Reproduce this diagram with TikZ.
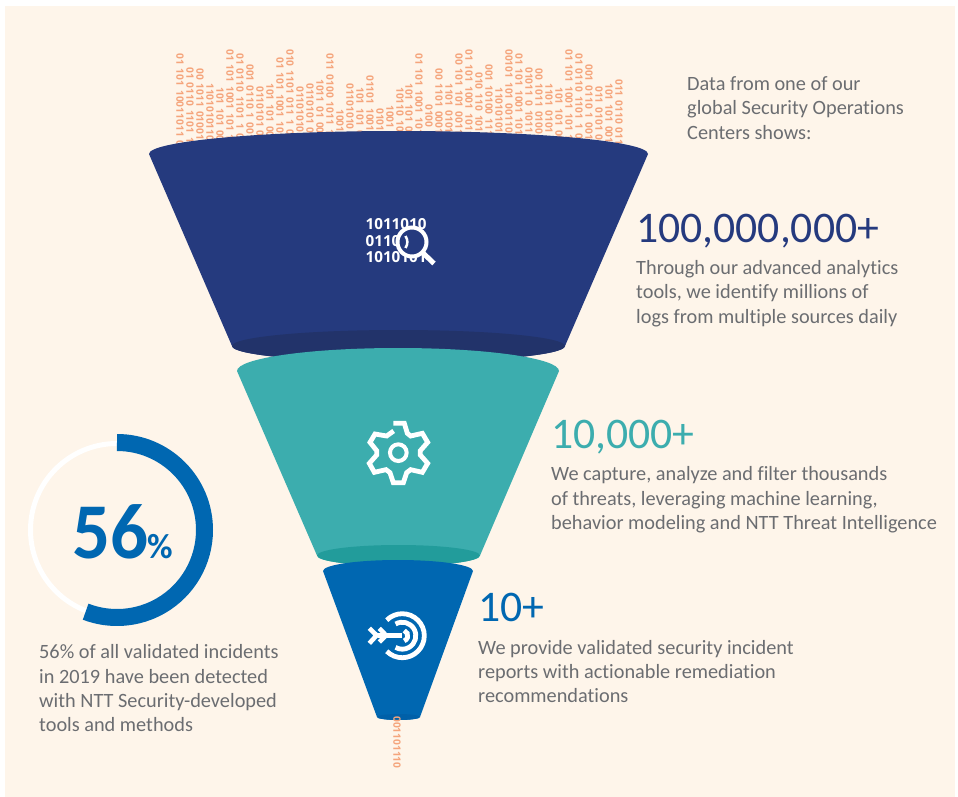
\documentclass[tikz,border=0pt]{standalone}
\usepackage{fontspec}
\usepackage{graphicx}
\setmainfont[Ligatures=NoCommon]{Carlito}
\newfontfamily\bitfont[WordSpace=1.5]{Open Sans}
\definecolor{cream}{HTML}{FEF5EA}
\definecolor{navyF}{HTML}{253A7E}
\definecolor{navyD}{HTML}{22336A}
\definecolor{tealF}{HTML}{3CADAE}
\definecolor{tealD}{HTML}{229C9B}
\definecolor{blueF}{HTML}{0067B1}
\definecolor{blueD}{HTML}{0060A8}
\definecolor{greyT}{HTML}{6B6D71}
\definecolor{binC}{HTML}{F5A57C}
\tikzset{
  bits/.style={rotate=-90,anchor=west,inner sep=0pt,text=binC,font=\bitfont\fontsize{10.2}{12}\selectfont\bfseries},
  para/.style={anchor=north west,inner sep=0pt,align=left,text=greyT,font=\fontsize{20.3}{24.2}\selectfont},
  big/.style={anchor=base west,inner sep=0pt,font=\fontsize{43.7}{46}\selectfont},
  iconbits/.style={anchor=west,inner sep=0pt,text=white,font=\bitfont\fontsize{15.2}{18}\selectfont\bfseries},
  icon/.style={draw=white,line width=4.8pt,fill=none}
}
\begin{document}
\begin{tikzpicture}[x=1pt,y=-1pt]
\useasboundingbox (0,0) rectangle (958,797);
\fill[white] (0,0) rectangle (958,797);
\fill[cream] (5,6) rectangle (955,797);

% binary columns
\foreach \xx/\yy/\tt in {
180/53/01 101 10011011 00 0110,190/67/01 0110 1101 1 0 1011,200/68/00 1011 01001 11 0101,210/83/1101010110 0101,220/87/101 101  00 1011,
230/49/01 101 1001 101 100 1011,240/53/01 0110 1101 1 01 1011,250/64/001 0110 1 001 1 1011,260/86/0110101 0 1011,270/83/101 101 00 1011,
280/57/01 101 1001 101 1 1011,290/49/010 1101 011 1 01 1011,300/86/01101010 1011,310/83/0110101 01 1011,320/79/1011 01 0011 1011,
330/53/011 0100 1011 1011 10,340/109/1001 1011,350/83/01101010 1011,360/87/101 101 0 1011,370/75/01101 1001 1011,380/108/0101 1011,390/105/1001 1 1011,400/87/10110 10110,
409/83/101 101 00 1011,419/53/01 101 1001 1011 1011,429/104/0100 1011,439/68/00 1101 0001 11 1011,449/83/1101 0101 1011,
459/53/00 101 101 00111 1011,469/49/01 101 1001 10110 1011,479/72/010 110 101 1011,489/64/001 10100 111 1011,499/87/11010101 1011,
509/49/00101 101 00110 1011,519/53/01 101 1001 1011 1011,529/67/01011 0 1011 1011,539/68/00 1011 0100 1 1011,549/83/1101 0101 1 1011,
559/87/101 101 00 1011,569/49/01 101 1001 101 100 1011,579/53/01 0110 1101 1 01 1011,589/64/001 0110 1 001 1 1011,599/86/011 0101 0 1 1011,
609/83/101 101 001 1011,619/79/011 0110 0110 1011}
  \node[bits] at (\xx,\yy) {\tt};

% top funnel
\fill[navyF] (149,154) arc[start angle=180,end angle=0,x radius=249.5pt,y radius=23pt]
  -- (565,346) arc[start angle=0,end angle=-180,x radius=166.5pt,y radius=16pt] -- cycle;
\fill[navyD] (398.5,346) ellipse[x radius=166.5pt,y radius=16pt];
% middle funnel
\fill[tealF] (237,371) arc[start angle=180,end angle=0,x radius=161pt,y radius=23pt]
  -- (480,555.5) arc[start angle=0,end angle=-180,x radius=81.5pt,y radius=10.5pt] -- cycle;
\fill[tealD] (398.5,555.5) ellipse[x radius=81.5pt,y radius=10.5pt];
% bottom funnel
\fill[blueF] (323,571) arc[start angle=180,end angle=0,x radius=75pt,y radius=11pt]
  -- (420,717) arc[start angle=0,end angle=-180,x radius=21.5pt,y radius=3pt] -- cycle;
\fill[blueD] (398.5,717) ellipse[x radius=21.5pt,y radius=3pt];

\node[bits] (tail) at (397,716) {001101110};

% magnifier icon
\node[iconbits] (row1) at (365.5,224) {1011010};
\node[iconbits] (row2) at (365.5,241) {01101};
\node[iconbits] (row3) at (365.5,257.5) {1010101};
\fill[navyF] (412,242) circle[radius=16pt];
\draw[white,line width=2.5pt] (405.5,236) .. controls (408,240) and (408,244) .. (405.5,248);
\draw[white,line width=4pt] (412,242) circle[radius=14.5pt];
\draw[white,line width=5pt] (422.5,252.5) -- (434,263.5);

% gear icon
\begin{scope}[shift={(350,410)},x=0.3333pt,y=-0.3333pt]
\draw[icon,line join=miter] (130,40) -- (163,40) -- (172,70) -- (182,78) -- (217,70) -- (233,97)
  -- (211,122) -- (211,135) -- (233,160) -- (217,187) -- (182,179) -- (170,188) -- (160,218) -- (130,218)
  -- (120,188) -- (108,179) -- (73,187) -- (58,160) -- (80,135) -- (80,122) -- (60,97) -- (75,72)
  -- (110,78) -- (131,63);
\draw[white,line width=4pt] (145,128) circle[radius=25];
\end{scope}

% target icon
\coordinate (tc) at (402.3,635.7);
\draw[white,line width=4.8pt] (tc) ++(135:22pt) arc[start angle=135,end angle=-135,radius=22pt];
\draw[white,line width=4.8pt] (tc) ++(120:13.5pt) arc[start angle=120,end angle=-120,radius=13.5pt];
\draw[white,line width=4.8pt] (tc) ++(70:5.5pt) arc[start angle=70,end angle=-70,radius=5.5pt];
\begin{scope}[shift={(350,600)},x=0.3333pt,y=-0.3333pt]
\draw[white,line width=4.8pt] (85,106) -- (155,106);
\draw[white,line width=4.6pt] (58,85) -- (80,106) -- (58,130);
\draw[white,line width=4.6pt] (88,85) -- (108,106) -- (88,126);
\end{scope}

% donut
\draw[white,line width=5pt] (117,530) circle[radius=86.5pt];
\draw[blueF,line width=17pt] (117,530) ++(90:87.5pt) arc[start angle=90,end angle=-111,radius=87.5pt];
\node[anchor=base west,inner sep=0pt,text=blueF,font=\fontsize{79}{82}\selectfont\bfseries] (pct) at (72,558) {\scalebox{0.95}[1]{56}};
\node[anchor=base west,inner sep=0pt,text=blueF,font=\fontsize{35}{38}\selectfont\bfseries] (pctsign) at (147,558) {\%};

% text
\node[para] (t0) at (687,76.5) {Data from one of our\\global Security Operations\\Centers shows:};
\node[big,text=navyF] (n1) at (636,242.5) {100,000,000+};
\node[para] (t1) at (636,260.5) {Through our advanced analytics\\tools, we identify millions of\\logs from multiple sources daily};
\node[big,text=tealF] (n2) at (551,448.5) {10,000+};
\node[para] (t2) at (551,466.5) {We capture, analyze and filter thousands\\of threats, leveraging machine learning,\\behavior modeling and NTT Threat Intelligence};
\node[big,text=blueF] (n3) at (478,621.5) {10+};
\node[para] (t3) at (478,640) {We provide validated security incident\\reports with actionable remediation\\recommendations};
\node[para] (t4) at (39,644.5) {56\% of all validated incidents\\in 2019 have been detected\\with NTT Security-developed\\tools and methods};
\end{tikzpicture}
\end{document}
